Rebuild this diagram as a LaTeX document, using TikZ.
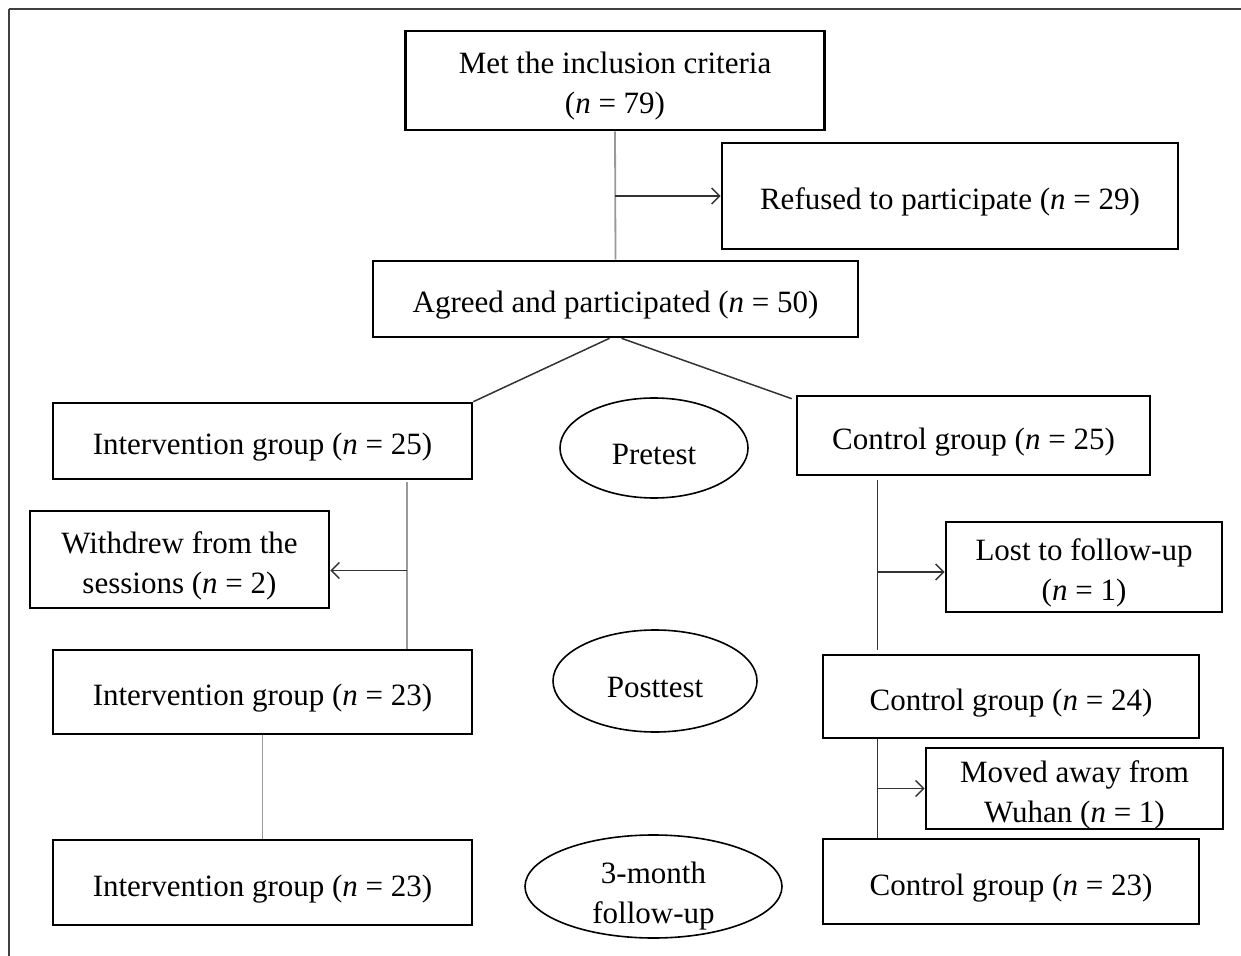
\documentclass[tikz,border=0pt]{standalone}
\usepackage{fontspec}
\setmainfont{Liberation Serif}
\usepackage{tikz}
\usetikzlibrary{positioning}
\usetikzlibrary{arrows.meta,shapes.geometric}
\usetikzlibrary{calc}
\newcommand{\twolines}[3][11.75pt]{\raisebox{#1}[0pt][0pt]{\begin{tabular}[t]{@{}c@{}}#2\\#3\end{tabular}}}
\tikzstyle{box}=[rectangle,draw,line width=1.3pt,align=center,inner sep=0pt,execute at begin node={\rule{0pt}{17pt}}]
\tikzstyle{phase}=[ellipse,draw,line width=0.8pt,align=center,inner sep=0pt,execute at begin node={\rule{0pt}{17pt}}]
\tikzstyle{link}=[draw,line width=0.75pt,black!80]
\tikzstyle{greylink}=[draw,line width=0.9pt,black!40]
\tikzstyle{arrowlink}=[draw,line width=0.75pt,black!80,-{Straight Barb[length=4pt,width=8pt]}]
\tikzset{frame/.style={draw,line width=0.8pt,black!75}}

\begin{document}
\begin{tikzpicture}[x=0.5pt, y=-0.5pt, font=\fontsize{15.5}{20}\selectfont]

  \useasboundingbox (0,0) rectangle (1241,956);
  \path[frame] (9,9) -- (1241,9);
  \path[frame] (9,9) -- (9,956);

   % boxes: x/y/name/width/height/text (pixels)
   \foreach \x/\y/\name/\w/\h/\txt in {615/80.5/met/419/99/{\twolines{Met the inclusion criteria}{(\textit{n} = 79)}},
        950/196/refused/456/106/{Refused to participate (\textit{n} = 29)},
        615.5/299/agreed/485/76/{Agreed and participated (\textit{n} = 50)}}
          \node[box, minimum width=\w*0.5pt, minimum height=\h*0.5pt] (\name) at (\x, \y) {\txt};

   \foreach \x/\y/\name/\w/\h/\txt in {262.5/441/int25/419/76/{Intervention group (\textit{n} = 25)},
        179.5/559.5/withdrew/299/97/{\twolines{Withdrew from the}{sessions (\textit{n} = 2)}},
        262.5/692/int23/419/84/{Intervention group (\textit{n} = 23)},
        262.5/882.5/int3m/419/85/{Intervention group (\textit{n} = 23)}}
          \node[box, minimum width=\w*0.5pt, minimum height=\h*0.5pt] (\name) at (\x, \y) {\txt};

   \foreach \x/\y/\name/\w/\h/\txt in {973.5/435.5/ctl25/353/79/{Control group (\textit{n} = 25)},
        1084/567/lost/276/90/{\twolines{Lost to follow-up}{(\textit{n} = 1)}},
        1011/696.5/ctl24/376/83/{Control group (\textit{n} = 24)},
        1074.5/788.5/moved/297/81/{\twolines{Moved away from}{Wuhan (\textit{n} = 1)}},
        1011/881.5/ctl23/376/85/{Control group (\textit{n} = 23)}}
          \node[box, minimum width=\w*0.5pt, minimum height=\h*0.5pt] (\name) at (\x, \y) {\txt};

   % time points
   \foreach \x/\y/\name/\w/\h/\txt in {654/448/pre/188/100/{Pretest}, 655/681/post/204/102/{Posttest},
        653.5/886.5/fu/257/103/{\twolines[10.25pt]{3-month}{follow-up}}}
          \node[phase, minimum width=\w*0.5pt, minimum height=\h*0.5pt] (\name) at (\x, \y) {\txt};

  \coordinate (ileft) at ([xshift=-33pt]int25.south east);
  \coordinate (cline) at ([xshift=41pt]ctl25.south west);
  \coordinate (wd) at ([yshift=-5.5pt]withdrew.east);
  \coordinate (lt) at ([yshift=-2.5pt]lost.west);

  \path[greylink] (met.south) -- (agreed.north);
  \path[arrowlink] (met.south |- refused.west) -- (refused.west);
  \path[link] ([xshift=-3pt]agreed.south) -- (int25.north east);
  \path[link] ([xshift=3pt]agreed.south) -- ([xshift=-2pt,yshift=-2pt]ctl25.north west);

  \path[greylink] ([yshift=-1pt]ileft) -- (ileft |- int23.north);
  \path[arrowlink] (wd -| ileft) -- (wd);
  \path[greylink] (int23.south) -- (int3m.north);

  \path[link] ([yshift=-2pt]cline) -- ([yshift=2pt]cline |- ctl24.north);
  \path[arrowlink] (lt -| cline) -- (lt);
  \path[link] (cline |- ctl24.south) -- (cline |- ctl23.north);
  \path[arrowlink] (moved.west -| cline) -- (moved.west);

   \end{tikzpicture}
\end{document}
